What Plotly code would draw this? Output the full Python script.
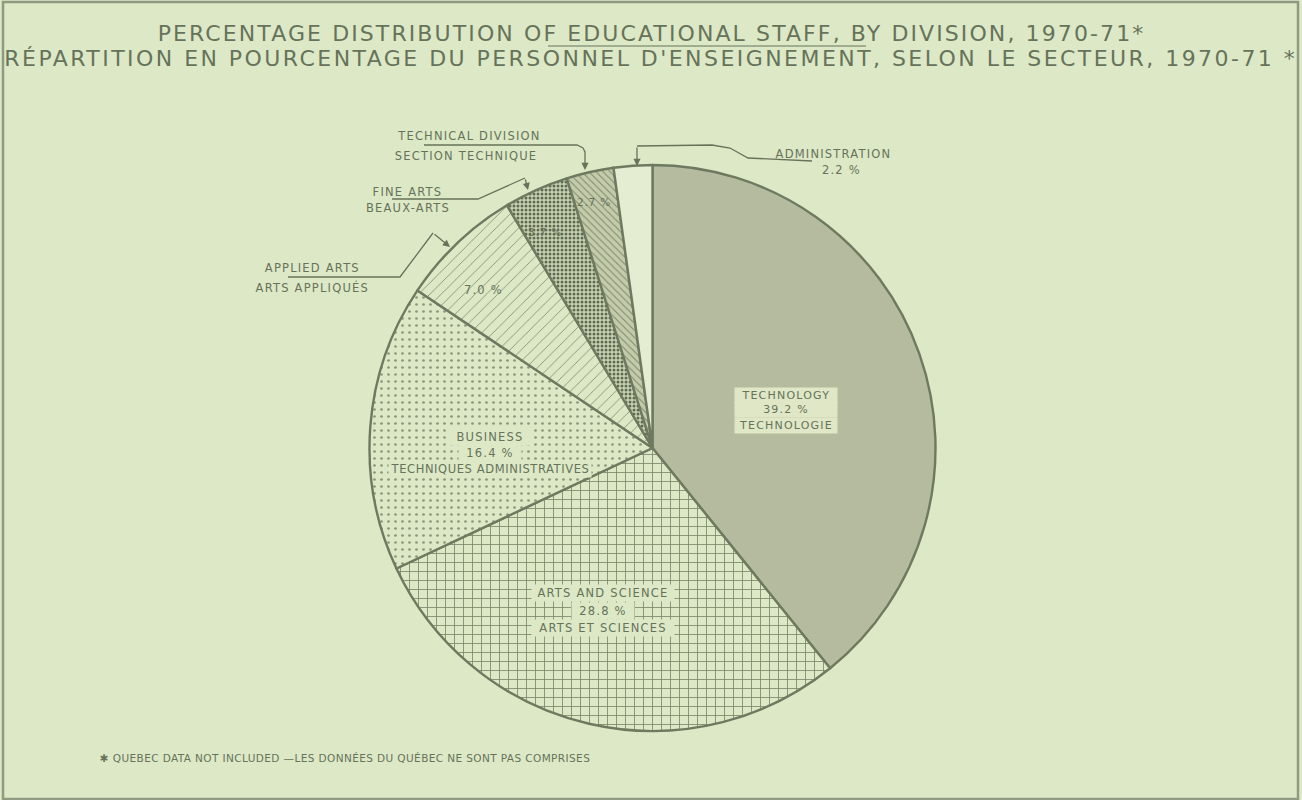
import plotly.graph_objects as go

# ---------------- data ----------------
divisions_en = ["TECHNOLOGY", "ARTS AND SCIENCE", "BUSINESS", "APPLIED ARTS",
                "FINE ARTS", "TECHNICAL DIVISION", "ADMINISTRATION"]
divisions_fr = ["TECHNOLOGIE", "ARTS ET SCIENCES", "TECHNIQUES ADMINISTRATIVES",
                "ARTS APPLIQUÉS", "BEAUX-ARTS", "SECTION TECHNIQUE", ""]
percent = [39.2, 28.8, 16.4, 7.0, 3.7, 2.7, 2.2]

title_en = "PERCENTAGE DISTRIBUTION OF EDUCATIONAL STAFF, BY DIVISION, 1970-71*"
title_fr = "RÉPARTITION EN POURCENTAGE DU PERSONNEL D'ENSEIGNEMENT, SELON LE SECTEUR, 1970-71 *"
footnote = "✱ QUEBEC DATA NOT INCLUDED —LES DONNÉES DU QUÉBEC NE SONT PAS COMPRISES"

# ---------------- style ----------------
W, H = 1302, 800
BG = "#dde8c6"
INK = "#66735a"
LINE = "#6e7a60"
FONT = "DejaVu Sans"

fills = ["#b5bb9e", BG, BG, BG, "#c9d2b2", "#c3cbab", "#e4ecd2"]
pat_shapes = ["", "+", ".", "/", ".", "\\", ""]
pat_fg = [INK, "#7d896b", "#8a9679", "#7d896b", "#5f6b52", "#7d896b", INK]
pat_size = [8, 9, 7, 8, 4, 5, 8]
pat_sol = [0.2, 0.18, 0.12, 0.1, 0.45, 0.2, 0.2]


def px(x):
    return x / W


def py(y):
    return 1 - y / H


cx, cy, R = 652.5, 448, 283

fig = go.Figure()
fig.add_trace(go.Pie(
    values=percent,
    labels=divisions_en,
    sort=False,
    direction="clockwise",
    rotation=0,
    textinfo="none",
    hoverinfo="label+percent",
    showlegend=False,
    domain=dict(x=[px(cx - R), px(cx + R)], y=[py(cy + R), py(cy - R)]),
    marker=dict(
        colors=fills,
        line=dict(color=LINE, width=2.4),
        pattern=dict(shape=pat_shapes, fgcolor=pat_fg, bgcolor=fills,
                     size=pat_size, solidity=pat_sol, fillmode="replace"),
    ),
))

ann = []
spacing = []  # letter spacing (px) per annotation, applied through CSS


def txt(x, y, s, size=11.5, color=INK, bg=None, ls=1.2, width=None):
    d = dict(x=px(x), y=py(y), xref="paper", yref="paper", text=s, showarrow=False,
             xanchor="center", yanchor="middle",
             font=dict(family=FONT, size=size, color=color))
    if bg:
        d.update(bgcolor=bg, borderpad=1)
    if width:
        d.update(width=width)
    ann.append(d)
    spacing.append(ls)


def pct(i):
    return f"{percent[i]:.1f} %"


# titles
txt(651, 33, title_en, size=22, ls=2.1)
txt(651, 58, title_fr, size=22, ls=2.45)
# footnote
txt(345, 758, footnote, size=10.5, ls=0.4)

# inside labels
txt(786, 395, divisions_en[0], size=11, bg="#dfe7c6", width=100, ls=1.2)
txt(786, 410, pct(0), size=11, bg="#dfe7c6", width=100, ls=1.2)
txt(786, 425, divisions_fr[0], size=11, bg="#dfe7c6", width=100, ls=1.2)

txt(603, 593, divisions_en[1], size=11.5, bg=BG, width=140, ls=1.2)
txt(603, 611, pct(1), size=11.5, bg=BG, width=60, ls=1.2)
txt(603, 628, divisions_fr[1], size=11.5, bg=BG, width=140, ls=1.2)

txt(490, 437, divisions_en[2], size=11.5, bg=BG, width=80, ls=1.2)
txt(490, 453, pct(2), size=11.5, bg=BG, width=60, ls=1.2)
txt(490, 469, divisions_fr[2], size=11.5, bg=BG, width=200, ls=0.6)

txt(483, 290, pct(3), size=11.5, ls=1.2)
txt(545, 232, pct(4), size=10.5, ls=0.8)
txt(594, 202, pct(5), size=10.5, ls=0.8)

# outside labels
txt(469, 136, divisions_en[5], size=11.5)
txt(466, 156, divisions_fr[5], size=11.5)
txt(833, 154, divisions_en[6], size=11.5)
txt(841, 170, pct(6), size=11.5)
txt(407, 192, divisions_en[4], size=11.5)
txt(408, 208, divisions_fr[4], size=11.5)
txt(312, 268, divisions_en[3], size=11.5)
txt(312, 287, divisions_fr[3], size=11.5)


def arrow(x0, y0, x1, y1):
    ann.append(dict(x=px(x1), y=py(y1), ax=x0 - x1, ay=y0 - y1, xref="paper", yref="paper",
                    axref="pixel", ayref="pixel", text="", showarrow=True,
                    arrowhead=2, arrowsize=1.1, arrowwidth=1.3, arrowcolor=INK,
                    standoff=0))
    spacing.append(0)


arrow(585, 150, 585, 170)
arrow(637, 146, 637, 166)
arrow(525, 178, 528, 190)
arrow(433, 233, 450, 247)

shapes = []


def path(points, width=1.3, dash="solid"):
    d = "M " + " L ".join(f"{px(x)},{py(y)}" for x, y in points)
    shapes.append(dict(type="path", path=d, xref="paper", yref="paper",
                       line=dict(color=INK, width=width, dash=dash)))


# leader lines
path([(424, 145), (577, 145), (583, 148), (585, 152)])
path([(637, 146), (712, 145), (730, 148), (748, 158), (812, 161)])
path([(392, 199), (478, 199), (525, 178)])
path([(288, 277), (400, 277), (433, 233)])
# title underline
path([(548, 46), (866, 46)], width=1.2)

# frame
shapes.append(dict(type="rect", xref="paper", yref="paper", x0=px(3), x1=px(1298),
                   y0=py(799), y1=py(2), line=dict(color="#8e9a82", width=2.5)))

fig.update_layout(
    width=W, height=H,
    margin=dict(l=0, r=0, t=0, b=0),
    paper_bgcolor=BG, plot_bgcolor=BG,
    annotations=ann, shapes=shapes,
)

css = "".join(
    f'.annotation[data-index="{i}"] text{{letter-spacing:{s}px;}}'
    for i, s in enumerate(spacing) if s
)
post = (
    "document.body.style.margin='0';document.body.style.overflow='hidden';"
    f"document.body.style.background='{BG}';"
    "var st=document.createElement('style');"
    f"st.textContent='{css}';"
    "document.head.appendChild(st);"
)

fig.write_html("out.html", post_script=post, config={"displayModeBar": False})
